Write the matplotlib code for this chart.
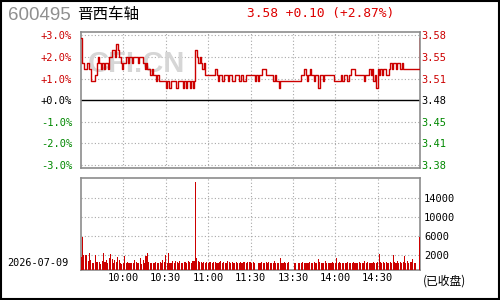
import matplotlib
matplotlib.use("Agg")
import matplotlib.pyplot as plt
from matplotlib.patches import Rectangle

# ---------------- data ----------------
code = "600495"
name = "晋西车轴"
date_str = "2026-07-09"
status = "(已收盘)"
prev_close = 3.48
last_price = 3.58
change = 0.10
change_pct = 2.87

price_am = [
    3.58, 3.54, 3.53, 3.53, 3.54, 3.54, 3.53, 3.51, 3.51, 3.51,
    3.52, 3.54, 3.55, 3.54, 3.53, 3.54, 3.53, 3.54, 3.54, 3.53,
    3.55, 3.55, 3.56, 3.56, 3.55, 3.57, 3.56, 3.55, 3.54, 3.53,
    3.54, 3.54, 3.55, 3.54, 3.55, 3.55, 3.54, 3.55, 3.55, 3.55,
    3.54, 3.55, 3.55, 3.55, 3.54, 3.53, 3.54, 3.53, 3.53, 3.52,
    3.53, 3.52, 3.52, 3.51, 3.52, 3.51, 3.51, 3.51, 3.51, 3.51,
    3.50, 3.51, 3.50, 3.50, 3.51, 3.51, 3.51, 3.50, 3.50, 3.51,
    3.51, 3.51, 3.50, 3.51, 3.50, 3.51, 3.51, 3.50, 3.51, 3.50,
    3.51, 3.56, 3.55, 3.54, 3.55, 3.54, 3.53, 3.54, 3.52, 3.52,
    3.52, 3.52, 3.52, 3.52, 3.52, 3.53, 3.52, 3.51, 3.52, 3.52,
    3.51, 3.52, 3.52, 3.52, 3.51, 3.52, 3.52, 3.51, 3.51, 3.52,
    3.52, 3.52, 3.51, 3.52, 3.52, 3.51, 3.51, 3.52, 3.52, 3.52,
]
price_pm = [
    3.52, 3.52, 3.52, 3.51, 3.52, 3.51, 3.52, 3.52, 3.53, 3.53,
    3.53, 3.52, 3.52, 3.52, 3.52, 3.52, 3.51, 3.52, 3.51, 3.51,
    3.50, 3.51, 3.51, 3.51, 3.51, 3.51, 3.51, 3.51, 3.51, 3.51,
    3.51, 3.51, 3.51, 3.51, 3.51, 3.51, 3.52, 3.52, 3.53, 3.52,
    3.51, 3.52, 3.53, 3.52, 3.52, 3.51, 3.52, 3.52, 3.50, 3.52,
    3.52, 3.51, 3.52, 3.52, 3.52, 3.52, 3.52, 3.52, 3.52, 3.51,
    3.51, 3.51, 3.51, 3.51, 3.52, 3.51, 3.52, 3.52, 3.51, 3.51,
    3.52, 3.53, 3.53, 3.53, 3.52, 3.52, 3.52, 3.52, 3.52, 3.52,
    3.51, 3.52, 3.52, 3.52, 3.53, 3.52, 3.53, 3.51, 3.52, 3.50,
    3.53, 3.52, 3.53, 3.52, 3.53, 3.53, 3.52, 3.52, 3.53, 3.54,
    3.53, 3.54, 3.54, 3.53, 3.54, 3.54, 3.53, 3.54, 3.53, 3.53,
    3.53, 3.53, 3.53, 3.53, 3.53, 3.53, 3.53, 3.53, 3.53, 3.53,
    3.58,
]
vol_am = [
    1500, 5900, 2000, 2000, 2000, 700, 2400, 1000, 300, 300,
    2000, 500, 500, 500, 200, 700, 2400, 600, 1000, 300,
    1400, 2300, 1200, 300, 1000, 600, 1500, 1000, 300, 200,
    300, 1800, 300, 600, 300, 300, 300, 300, 1000, 600,
    400, 300, 1300, 200, 1000, 300, 1800, 2400, 500, 300,
    300, 300, 400, 600, 300, 300, 600, 300, 1000, 500,
    2000, 300, 2400, 300, 300, 700, 400, 700, 500, 300,
    700, 300, 400, 500, 600, 300, 800, 600, 400, 700,
    700, 17500, 1400, 700, 500, 600, 300, 600, 400, 600,
    300, 500, 600, 300, 600, 600, 400, 300, 500, 700,
    300, 500, 400, 300, 700, 500, 300, 600, 400, 300,
    500, 400, 300, 600, 400, 500, 600, 300, 600, 500,
]
vol_pm = [
    500, 300, 500, 300, 0, 0, 400, 300, 500, 300,
    400, 600, 300, 500, 300, 400, 300, 800, 300, 300,
    400, 1400, 300, 400, 500, 300, 400, 500, 0, 0,
    0, 400, 300, 0, 300, 400, 300, 500, 400, 300,
    400, 300, 500, 300, 400, 600, 300, 400, 1200, 500,
    300, 400, 300, 800, 300, 400, 300, 300, 600, 300,
    400, 1300, 300, 600, 300, 400, 300, 400, 300, 500,
    300, 400, 300, 500, 300, 400, 300, 500, 400, 300,
    400, 800, 300, 500, 300, 400, 300, 500, 300, 400,
    600, 2270, 500, 300, 600, 400, 500, 300, 400, 600,
    400, 2060, 500, 300, 700, 400, 600, 300, 500, 1700,
    400, 800, 300, 500, 600, 1220, 400, 300, 0, 0,
    5900,
]
pct_ticks = [3, 2, 1, 0, -1, -2, -3]
time_labels = ["10:00", "10:30", "11:00", "11:30", "13:30", "14:00", "14:30"]
time_pos = [30, 60, 90, 120, 150, 180, 210]
vol_ticks = [2000, 6000, 10000, 14000]

# ---------------- styling ----------------
RED = "#cc0000"
GREEN = "#008800"
GRID = "#a8a8a8"
FRAME = "#8c8c8c"
MONO = "DejaVu Sans Mono"
CJK = ["Noto Sans CJK SC", "DejaVu Sans"]

prices = price_am + price_pm
vols = vol_am + vol_pm
minutes = list(range(len(prices)))
pct = [(p / prev_close - 1) * 100 for p in prices]

fig = plt.figure(figsize=(5, 3), dpi=100)
fig.patch.set_facecolor("white")

W, H = 500.0, 300.0
L, R = 81, 420
ax = fig.add_axes([L / W, 1 - 168.3 / H, (R - L) / W, (168.3 - 32) / H])
axv = fig.add_axes([L / W, 1 - 269.7 / H, (R - L) / W, (269.7 - 178.3) / H])

for a in (ax, axv):
    a.set_xlim(0, 240)
    for s in a.spines.values():
        s.set_color(FRAME)
        s.set_linewidth(1.2)
    a.tick_params(length=0)
    for xp in time_pos:
        a.axvline(xp, color=GRID, lw=0.8, ls=(0, (1, 2)), zorder=1)

# ---- price panel ----
ax.set_ylim(-3.15, 3.15)
for p in pct_ticks:
    if p == 0:
        ax.axhline(0, color="black", lw=1.0, zorder=2)
    else:
        ax.axhline(p, color=GRID, lw=0.8, ls=(0, (1, 2)), zorder=1)
ax.text(0.165, 0.765, "CFI.CN", transform=ax.transAxes, ha="center", va="center",
        fontsize=21, fontweight="bold", family="Liberation Sans", color="#d6d6d6", zorder=1.5)
ax.plot(minutes, pct, color=RED, lw=1.0, drawstyle="steps-post", zorder=3)

ax.set_xticks([])
ax.set_yticks(pct_ticks)
ax.set_yticklabels([("+%.1f%%" % p) if p >= 0 else ("%.1f%%" % p) for p in pct_ticks],
                   family=MONO, fontsize=7.5)
ax.tick_params(axis="y", pad=6.5)
for lab, p in zip(ax.get_yticklabels(), pct_ticks):
    lab.set_color(RED if p > 0 else (GREEN if p < 0 else "black"))

ax2 = ax.twinx()
ax2.set_ylim(ax.get_ylim())
ax2.set_yticks(pct_ticks)
ax2.set_yticklabels(["%.2f" % (prev_close * (1 + p / 100)) for p in pct_ticks],
                    family=MONO, fontsize=7.5)
ax2.tick_params(length=0, pad=1)
for s in ax2.spines.values():
    s.set_visible(False)
for lab, p in zip(ax2.get_yticklabels(), pct_ticks):
    lab.set_color(RED if p > 0 else (GREEN if p < 0 else "black"))

# ---- volume panel ----
vmin, vmax = -1100, 18200
axv.set_ylim(vmin, vmax)
for v in vol_ticks:
    axv.axhline(v, color=GRID, lw=0.8, ls=(0, (1, 2)), zorder=1)
axv.bar(minutes, [v - vmin if v > 0 else 0 for v in vols], bottom=vmin, width=0.75,
        color=RED, linewidth=0, zorder=3)
axv.yaxis.tick_right()
axv.set_yticks(vol_ticks)
axv.set_yticklabels([str(v) for v in vol_ticks], family=MONO, fontsize=7.5)
axv.tick_params(axis="y", pad=3)
axv.set_xticks(time_pos)
axv.set_xticklabels(time_labels, family=MONO, fontsize=7.5)
axv.tick_params(axis="x", pad=2.5)

# ---- header & labels ----
fig.text(8 / W, 1 - 15 / H, code, ha="left", va="center", fontsize=13.5,
         family="Liberation Sans", color="#8f8f8f")
fig.text(77 / W, 1 - 14.5 / H, name, ha="left", va="center", fontsize=11.2,
         family=CJK, color="black")
fig.text(247 / W, 1 - 14 / H, "%.2f +%.2f (+%.2f%%)" % (last_price, change, change_pct),
         ha="left", va="center", fontsize=9.3, family=MONO, color="#dd0000")
fig.text(7 / W, 1 - 263 / H, date_str, ha="left", va="center", fontsize=7.3,
         family=MONO, color="black")
fig.text(423 / W, 1 - 281 / H, status, ha="left", va="center", fontsize=8.5,
         family=CJK, color="black")

fig.add_artist(Rectangle((0.0015, 0.003), 0.996, 0.994, transform=fig.transFigure,
                         fill=False, edgecolor="black", lw=1.5))

fig.savefig("out.png", dpi=100, facecolor="white")
